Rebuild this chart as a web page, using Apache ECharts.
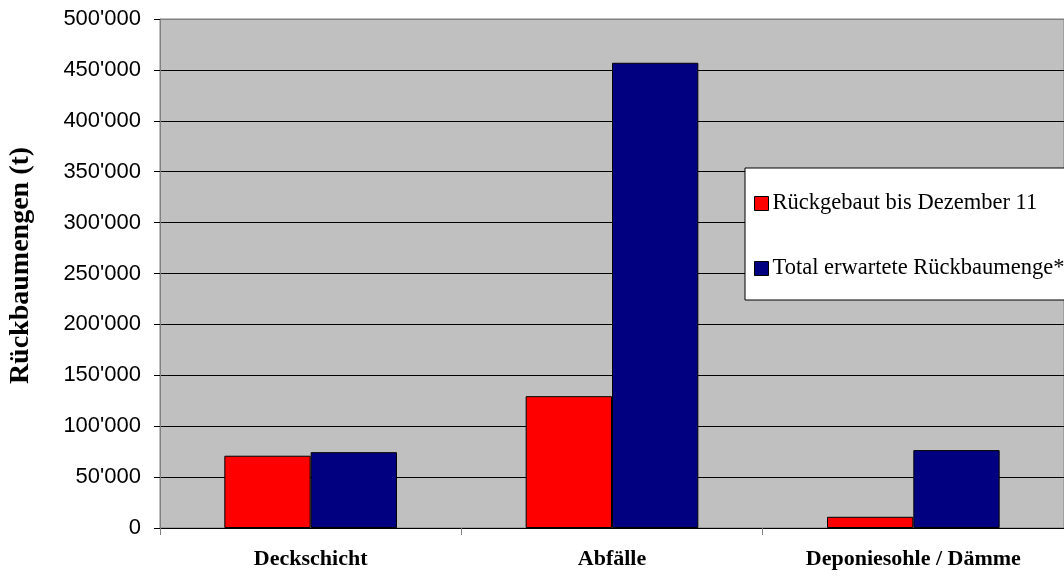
<!DOCTYPE html>
<html>
<head>
<meta charset="utf-8">
<script src="https://cdn.jsdelivr.net/npm/echarts@6/dist/echarts.min.js"></script>
<style>
html,body{margin:0;padding:0;background:#fff;}
#chart{width:1064px;height:577px;}
</style>
</head>
<body>
<div id="chart"></div>
<script>
var categories = ['Deckschicht', 'Abfälle', 'Deponiesohle / Dämme'];
var rueckgebaut = [71000, 129500, 11000];
var totalErwartet = [74500, 457000, 76500];
var seriesNames = ['Rückgebaut bis Dezember 11', 'Total erwartete Rückbaumenge*'];
var yTitle = 'Rückbaumengen (t)';

function fmt(v) {
  return String(v).replace(/\B(?=(\d{3})+(?!\d))/g, "'");
}

var splitColors = [];
for (var i = 0; i < 10; i++) splitColors.push('#000');
splitColors.push('#808080');

var chart = echarts.init(document.getElementById('chart'), null, {renderer: 'canvas'});
chart.setOption({
  animation: false,
  backgroundColor: '#ffffff',
  grid: {
    left: 160, right: -2, top: 19, bottom: 49,
    show: true, backgroundColor: '#C0C0C0', borderColor: '#808080', borderWidth: 1
  },
  graphic: [{
    type: 'text',
    x: 20.5, y: 265.5,
    rotation: Math.PI / 2,
    style: {
      text: yTitle,
      fontFamily: 'Liberation Serif', fontWeight: 'bold', fontSize: 28,
      fill: '#000', textAlign: 'center', textVerticalAlign: 'middle'
    }
  }],
  legend: {
    orient: 'vertical',
    left: 745, top: 168,
    backgroundColor: '#ffffff',
    borderColor: '#000000', borderWidth: 1,
    padding: [24, 20, 20, 9],
    itemGap: 42,
    itemWidth: 14, itemHeight: 14,
    icon: 'rect',
    itemStyle: {borderColor: '#000', borderWidth: 1},
    textStyle: {fontFamily: 'Liberation Serif', fontSize: 22.5, color: '#000', lineHeight: 22, padding: [0, 0, 0, -1]},
    data: seriesNames
  },
  xAxis: {
    type: 'category',
    data: categories,
    axisLine: {show: true, lineStyle: {color: '#000', width: 1}},
    axisTick: {show: true, alignWithLabel: false, length: 7, lineStyle: {color: '#808080'}},
    axisLabel: {fontFamily: 'Liberation Serif', fontWeight: 'bold', fontSize: 22, color: '#000', margin: 20},
    splitLine: {show: false}
  },
  yAxis: {
    type: 'value',
    min: 0, max: 500000, interval: 50000,
    axisLine: {show: true, lineStyle: {color: '#808080', width: 1}},
    axisTick: {show: true, length: 6, lineStyle: {color: '#000'}},
    axisLabel: {fontFamily: 'Liberation Sans', fontSize: 22, color: '#000', margin: 19, formatter: fmt},
    splitLine: {show: true, lineStyle: {color: splitColors, width: 1}}
  },
  series: [
    {
      name: seriesNames[0], type: 'bar', data: rueckgebaut,
      barGap: '0%', barCategoryGap: '42.7%',
      itemStyle: {color: '#FF0000', borderColor: '#000', borderWidth: 1}
    },
    {
      name: seriesNames[1], type: 'bar', data: totalErwartet,
      barGap: '0%', barCategoryGap: '42.7%',
      itemStyle: {color: '#000080', borderColor: '#000', borderWidth: 1}
    }
  ]
});
</script>
</body>
</html>
